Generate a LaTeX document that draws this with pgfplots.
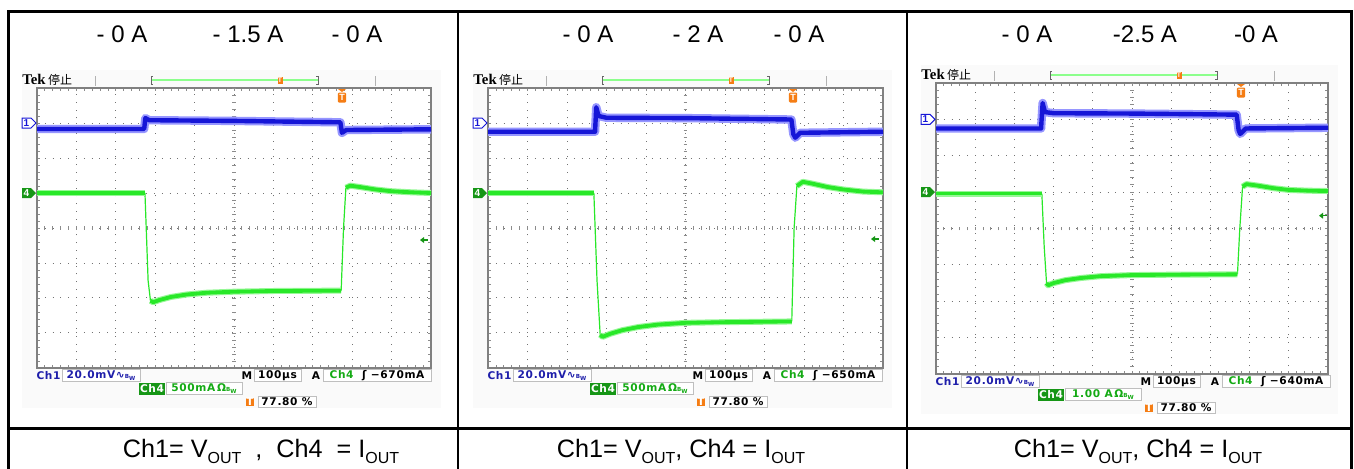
\documentclass[border=0pt]{standalone}
\usepackage{fontspec}
\setmainfont{Liberation Sans}
\newfontfamily\cjk{Noto Sans CJK SC}
\newfontfamily\tekfont{Liberation Serif}
\newfontfamily\osc[LetterSpace=6]{DejaVu Sans}
\usepackage{pgfplots}
\pgfplotsset{compat=1.18}

\definecolor{cone}{RGB}{22,22,215}
\definecolor{conef}{RGB}{150,150,255}
\definecolor{cfour}{RGB}{40,232,40}
\definecolor{cfourf}{RGB}{150,248,150}
\definecolor{cfourdk}{RGB}{22,150,22}
\definecolor{lblblue}{RGB}{30,30,170}
\definecolor{lblgreen}{RGB}{20,170,20}
\definecolor{trig}{RGB}{245,125,20}

\newcommand{\lab}{\osc\bfseries\fontsize{5.3}{6}\selectfont}
\newcommand{\bw}{{\fontsize{2.8}{3}\selectfont B\raisebox{-0.5ex}{W}}}
\newcommand{\sub}[1]{\raisebox{-0.5ex}{\fontsize{8}{9}\selectfont #1}}

\pgfplotsset{
  scopeaxis/.style={
    scale only axis, anchor=north west,
    xmin=0, xmax=10, ymin=-4, ymax=4,
    xtick={0,...,10}, ytick={-4,...,4},
    minor x tick num=4, minor y tick num=4,
    xticklabels={}, yticklabels={},
    tick align=inside, major tick length=1.6pt, minor tick length=1.6pt,
    tick style={black!45, line width=0.4pt},
    grid=major,
    major grid style={black!55, line width=0.5pt, dash pattern=on 0.5pt off 3.4pt},
    axis line style={black!50, line width=1pt},
    axis background/.style={fill=white},
  },
  ch1f/.style={conef, line width=4.2pt, line join=round, no marks},
  ch1c/.style={cone, line width=2.2pt, line join=round, no marks},
  ch4f/.style={cfourf, line width=3pt, line join=round, no marks},
  ch4c/.style={cfour, line width=1.9pt, line join=round, no marks},
  ch4t/.style={cfour, line width=0.6pt, no marks},
}

% small ticks on the centre cross of the screen
\newcommand{\crossticks}{%
  \pgfplotsinvokeforeach{0.2,0.4,...,9.9}{\draw[black!45, line width=0.4pt] (axis cs:##1,-0.05) -- (axis cs:##1,0.05);}
  \pgfplotsinvokeforeach{-3.8,-3.6,...,3.9}{\draw[black!45, line width=0.4pt] (axis cs:4.95,##1) -- (axis cs:5.05,##1);}
}

% #1,#2 grid corner (px), #3 width, #4 height, #5 trigger arrow y (px, from top), #6 ch4 scale, #7 trigger level
\newcommand{\deco}[7]{%
\begin{scope}[shift={(#1,#2)}, every node/.style={inner sep=0pt}]
  \node[anchor=base west] at (-15,-4) {\tekfont\bfseries\fontsize{7.4}{8}\selectfont Tek\,{\cjk\mdseries\fontsize{6}{6}\selectfont 停止}};
  \draw[black!30, line width=0.5pt] (58,-12) -- (58,-2) (338,-12) -- (338,-2);
  \draw[green!45!white, line width=0.8pt] (114,-8) -- (281,-8);
  \draw[black!60, line width=0.5pt] (116,-12) -- (114,-12) -- (114,-4) -- (116,-4);
  \draw[black!60, line width=0.5pt] (279,-12) -- (281,-12) -- (281,-4) -- (279,-4);
  \node[fill=trig, text=white, minimum width=2.5pt, minimum height=3.8pt, font=\fontsize{3.4}{4}\selectfont\bfseries] at (243,-7.5) {T};
  % trigger position marker
  \fill[trig] (301,1) -- (309,1) -- (305,4) -- cycle;
  \node[fill=trig, text=white, rounded corners=0.6pt, minimum width=4.2pt, minimum height=5pt, font=\fontsize{4.5}{5}\selectfont\bfseries] at (305,9.5) {T};
  % channel markers
  \draw[cone, fill=white, line width=0.5pt] (-15,{#4/8-5}) -- (-6,{#4/8-5}) -- (-1,{#4/8}) -- (-6,{#4/8+5}) -- (-15,{#4/8+5}) -- cycle;
  \node[text=cone, font=\fontsize{5}{5}\selectfont\bfseries] at (-10.5,{#4/8}) {1};
  \fill[cfourdk] (-15,{3*#4/8-5}) -- (-6,{3*#4/8-5}) -- (-1,{3*#4/8}) -- (-6,{3*#4/8+5}) -- (-15,{3*#4/8+5}) -- cycle;
  \node[text=white, font=\fontsize{5}{5}\selectfont\bfseries] at (-10.5,{3*#4/8}) {4};
  % trigger level
  \fill[cfourdk] (383,#5) -- (387,{#5-3}) -- (387,{#5+3}) -- cycle;
  \draw[cfourdk, line width=0.7pt] (386,#5) -- (391,#5);
  % readouts
  \node[text=lblblue] at (11.5,{#4+7.5}) {\lab Ch1};
  \draw[black!25, fill=white, line width=0.4pt] (25,{#4+1.5}) rectangle (103,{#4+13.5});
  \node[text=lblblue] at (64,{#4+7.5}) {\lab 20.0mV∿\bw};
  \node at (210,{#4+7.5}) {\lab M};
  \draw[black!25, fill=white, line width=0.4pt] (217,{#4+1.5}) rectangle (264,{#4+13.5});
  \node at (240.5,{#4+7.5}) {\lab 100µs};
  \node at (279,{#4+7.5}) {\lab A};
  \draw[black!25, fill=white, line width=0.4pt] (286,{#4+1.5}) rectangle (394,{#4+13.5});
  \node at (340,{#4+7.5}) {\lab\textcolor{lblgreen}{Ch4}\ \ ʃ #7};
  \fill[cfourdk] (102,{#4+14.5}) rectangle (128,{#4+26.5});
  \node[text=white] at (115,{#4+20.5}) {\lab Ch4};
  \draw[black!25, fill=white, line width=0.4pt] (129,{#4+14.5}) rectangle (205,{#4+26.5});
  \node[text=lblgreen] at (167,{#4+20.5}) {\lab #6\,Ω\bw};
  \fill[trig] (209,{#4+29.5}) rectangle (217,{#4+38});
  \node[text=white] at (213,{#4+33.8}) {\lab T};
  \draw[black!25, fill=white, line width=0.4pt] (221,{#4+28}) rectangle (279,{#4+39.5});
  \node at (250,{#4+34}) {\lab 77.80 \%};
\end{scope}}

\begin{document}
\begin{tikzpicture}
\begin{scope}[x=0.5pt, y=-0.5pt]
  \fill[black!2] (22,70) rectangle (441,408);
  \fill[black!2] (473,70) rectangle (892,408);
  \fill[black!2] (921,65) rectangle (1338,414);
  \coordinate (g1) at (37,88);
  \coordinate (g2) at (488,88);
  \coordinate (g3) at (936,83);
\end{scope}

% ---- 1.5 A step ----
\begin{axis}[scopeaxis, at={(g1)}, width=197pt, height=140pt]
\crossticks
\addplot[ch1f] coordinates {(0,2.83) (2.72,2.83) (2.75,3.14) (2.85,3.08) (5,3.06) (7.7,3.02) (7.74,2.72) (7.85,2.80) (10,2.82)};
\addplot[ch1c] coordinates {(0,2.83) (2.72,2.83) (2.75,3.14) (2.85,3.08) (5,3.06) (7.7,3.02) (7.74,2.72) (7.85,2.80) (10,2.82)};
\addplot[ch4t] coordinates {(2.74,1.0) (2.82,-1.5) (2.88,-2.08)};
\addplot[ch4t] coordinates {(7.72,-1.79) (7.78,0) (7.84,1.15)};
\addplot[ch4f] coordinates {(0,1.0) (2.74,1.0)};
\addplot[ch4c] coordinates {(0,1.0) (2.74,1.0)};
\addplot[ch4f] coordinates {(2.88,-2.08) (2.95,-2.12) (3.1,-2.06) (3.4,-1.97) (3.8,-1.9) (4.3,-1.85) (5,-1.82) (6,-1.8) (7.72,-1.79)};
\addplot[ch4c] coordinates {(2.88,-2.08) (2.95,-2.12) (3.1,-2.06) (3.4,-1.97) (3.8,-1.9) (4.3,-1.85) (5,-1.82) (6,-1.8) (7.72,-1.79)};
\addplot[ch4f] coordinates {(7.84,1.15) (7.95,1.21) (8.2,1.17) (8.6,1.1) (9.0,1.05) (9.5,1.02) (10,1.0)};
\addplot[ch4c] coordinates {(7.84,1.15) (7.95,1.21) (8.2,1.17) (8.6,1.1) (9.0,1.05) (9.5,1.02) (10,1.0)};
\end{axis}

% ---- 2 A step ----
\begin{axis}[scopeaxis, at={(g2)}, width=197.5pt, height=140pt]
\crossticks
\addplot[ch1f] coordinates {(0,2.75) (2.71,2.75) (2.74,3.45) (2.8,3.2) (3,3.15) (5,3.14) (7.68,3.1) (7.73,2.68) (7.78,2.58) (7.9,2.72) (10,2.75)};
\addplot[ch1c] coordinates {(0,2.75) (2.71,2.75) (2.74,3.45) (2.8,3.2) (3,3.15) (5,3.14) (7.68,3.1) (7.73,2.68) (7.78,2.58) (7.9,2.72) (10,2.75)};
\addplot[ch4t] coordinates {(2.68,1.0) (2.76,-1.5) (2.84,-3.05)};
\addplot[ch4t] coordinates {(7.69,-2.67) (7.75,0) (7.82,1.2)};
\addplot[ch4f] coordinates {(0,1.0) (2.68,1.0)};
\addplot[ch4c] coordinates {(0,1.0) (2.68,1.0)};
\addplot[ch4f] coordinates {(2.84,-3.05) (2.9,-3.11) (3.1,-3.02) (3.4,-2.92) (3.8,-2.83) (4.3,-2.76) (5,-2.71) (6,-2.69) (7.69,-2.67)};
\addplot[ch4c] coordinates {(2.84,-3.05) (2.9,-3.11) (3.1,-3.02) (3.4,-2.92) (3.8,-2.83) (4.3,-2.76) (5,-2.71) (6,-2.69) (7.69,-2.67)};
\addplot[ch4f] coordinates {(7.82,1.2) (7.97,1.32) (8.2,1.27) (8.6,1.17) (9,1.1) (9.5,1.04) (10,1.02)};
\addplot[ch4c] coordinates {(7.82,1.2) (7.97,1.32) (8.2,1.27) (8.6,1.17) (9,1.1) (9.5,1.04) (10,1.02)};
\end{axis}

% ---- 2.5 A step ----
\begin{axis}[scopeaxis, at={(g3)}, width=196pt, height=145.5pt]
\crossticks
\addplot[ch1f] coordinates {(0,2.75) (2.68,2.75) (2.72,3.45) (2.78,3.2) (3,3.17) (5,3.16) (7.67,3.13) (7.72,2.7) (7.76,2.6) (7.9,2.75) (10,2.77)};
\addplot[ch1c] coordinates {(0,2.75) (2.68,2.75) (2.72,3.45) (2.78,3.2) (3,3.17) (5,3.16) (7.67,3.13) (7.72,2.7) (7.76,2.6) (7.9,2.75) (10,2.77)};
\addplot[ch4t] coordinates {(2.70,0.96) (2.76,-0.5) (2.82,-1.5)};
\addplot[ch4t] coordinates {(7.69,-1.26) (7.75,0) (7.82,1.15)};
\addplot[ch4f] coordinates {(0,0.96) (2.70,0.96)};
\addplot[ch4c] coordinates {(0,0.96) (2.70,0.96)};
\addplot[ch4f] coordinates {(2.82,-1.5) (2.86,-1.56) (3.0,-1.5) (3.3,-1.42) (3.7,-1.36) (4.2,-1.31) (5,-1.28) (6,-1.27) (7.69,-1.26)};
\addplot[ch4c] coordinates {(2.82,-1.5) (2.86,-1.56) (3.0,-1.5) (3.3,-1.42) (3.7,-1.36) (4.2,-1.31) (5,-1.28) (6,-1.27) (7.69,-1.26)};
\addplot[ch4f] coordinates {(7.82,1.15) (7.92,1.22) (8.2,1.18) (8.6,1.11) (9.0,1.06) (9.5,1.04) (10,1.03)};
\addplot[ch4c] coordinates {(7.82,1.15) (7.92,1.22) (8.2,1.18) (8.6,1.11) (9.0,1.06) (9.5,1.04) (10,1.03)};
\end{axis}

\begin{scope}[x=0.5pt, y=-0.5pt]
  \deco{37}{88}{394}{280}{152}{500mA}{−670mA}
  \deco{488}{88}{395}{280}{151}{500mA}{−650mA}
  \deco{936}{83}{392}{291}{132.7}{1.00 A}{−640mA}
  % step labels
  \begin{scope}[every node/.style={anchor=base, inner sep=0pt, font=\fontsize{12}{14}\selectfont}]
    \node at (122,42) {- 0 A};
    \node at (248,42) {- 1.5 A};
    \node at (357,42) {- 0 A};
    \node at (588,42) {- 0 A};
    \node at (698,42) {- 2 A};
    \node at (799,42) {- 0 A};
    \node at (1027,42) {- 0 A};
    \node at (1145,42) {-2.5 A};
    \node at (1256,42) {-0 A};
  \end{scope}
  \begin{scope}[every node/.style={anchor=base, inner sep=0pt, font=\fontsize{12.6}{14}\selectfont}]
    \node at (261,457) {Ch1= V\sub{OUT} \ ,\ \ Ch4 \ = I\sub{OUT}};
    \node at (681,457) {Ch1= V\sub{OUT}, Ch4 = I\sub{OUT}};
    \node at (1138,457) {Ch1= V\sub{OUT}, Ch4 = I\sub{OUT}};
  \end{scope}
  % table rules
  \draw[line width=1.5pt] (8,470) -- (8,11.5) -- (1351,11.5) -- (1351,470);
  \draw[line width=1.2pt] (458,11.5) -- (458,470) (907,11.5) -- (907,470);
  \draw[line width=1.5pt] (8,428) -- (1351,428);
  \pgfresetboundingbox
  \path[use as bounding box] (0,0) rectangle (1354,468);
\end{scope}
\end{tikzpicture}
\end{document}
